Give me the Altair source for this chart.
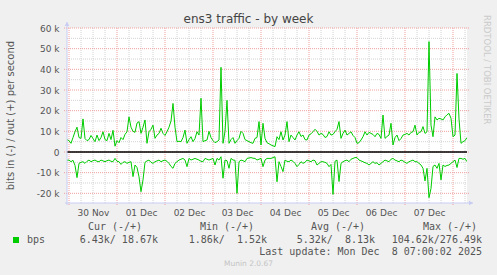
import altair as alt
import pandas as pd

# ---------------- data ----------------
START = "2025-11-29 23:00"          # first sample (UTC), hourly samples
OUT_K = [
    6.0, 5.5, 4.2, 7.0, 9.8, 12.0, 7.0, 6.6, 16.0, 6.5,
    5.5, 6.0, 8.0, 6.5, 5.0, 8.2, 5.5, 7.0, 9.8, 6.0,
    5.5, 9.0, 6.0, 10.5, 2.8, 5.5, 4.5, 7.0, 6.0, 8.5,
    9.8, 17.0, 12.0, 10.0, 9.5, 14.0, 14.7, 9.0, 12.0, 15.5,
    4.2, 9.8, 11.0, 13.0, 6.6, 8.2, 9.0, 11.5, 9.0, 8.0,
    9.8, 12.0, 15.0, 23.5, 12.0, 5.0, 5.2, 5.0, 7.0, 10.6,
    4.2, 6.0, 7.4, 5.0, 6.5, 9.8, 8.2, 26.0, 5.0, 5.5,
    5.8, 10.0, 7.0, 5.5, 4.5, 5.0, 5.8, 41.0, 4.2, 10.0,
    25.0, 4.2, 6.0, 7.0, 4.2, 5.5, 6.6, 10.0, 9.0, 6.0,
    5.5, 5.0, 4.5, 4.2, 6.6, 7.0, 14.7, 3.4, 13.9, 6.6,
    4.5, 4.0, 3.4, 3.0, 2.6, 7.4, 6.0, 9.8, 5.8, 8.2,
    14.7, 5.0, 8.2, 7.0, 5.8, 8.2, 9.8, 7.5, 8.2, 6.0,
    5.8, 8.2, 8.8, 9.8, 11.0, 10.0, 8.2, 9.0, 8.5, 7.0,
    7.5, 9.8, 8.2, 8.5, 9.8, 11.0, 14.7, 6.6, 9.0, 10.6,
    8.2, 9.0, 9.8, 8.0, 7.0, 4.2, 4.5, 5.8, 7.4, 9.8,
    8.2, 9.5, 9.0, 8.5, 7.4, 9.0, 8.5, 6.6, 17.9, 6.6,
    7.5, 8.2, 13.9, 3.4, 7.0, 8.2, 5.5, 6.5, 8.2, 8.5,
    9.0, 8.2, 9.5, 9.8, 13.0, 8.2, 9.5, 9.8, 12.3, 9.0,
    9.8, 53.4, 13.0, 7.4, 17.0, 15.5, 16.3, 16.0, 15.5, 17.0,
    18.0, 18.7, 16.3, 7.4, 8.2, 38.0, 16.0, 4.2, 5.0, 5.5,
    7.0,
]
IN_K = [
    -4.0, -3.9, -4.7, -4.0, -6.5, -12.4, -5.5, -5.0, -4.7, -5.5,
    -4.5, -3.9, -4.7, -4.2, -3.9, -4.5, -4.7, -3.9, -4.3, -4.7,
    -4.2, -3.9, -4.5, -4.7, -3.1, -4.5, -4.7, -6.0, -5.0, -4.7,
    -5.5, -5.0, -4.7, -11.9, -6.3, -7.5, -12.0, -19.2, -13.5, -5.0,
    -4.3, -3.9, -5.0, -5.5, -4.7, -4.3, -3.9, -4.7, -4.2, -3.9,
    -4.5, -5.5, -7.0, -7.9, -5.5, -4.7, -3.9, -3.5, -3.1, -3.9,
    -7.1, -3.1, -3.9, -3.5, -3.1, -3.5, -3.9, -4.5, -4.7, -3.1,
    -3.5, -3.9, -3.5, -3.1, -6.3, -3.1, -3.9, -2.3, -12.7, -3.9,
    -4.2, -7.9, -3.1, -3.9, -4.0, -20.0, -4.7, -3.9, -4.2, -4.7,
    -3.1, -2.9, -2.7, -3.0, -3.1, -3.9, -3.5, -3.1, -7.1, -3.9,
    -3.1, -3.1, -3.1, -2.7, -2.3, -14.4, -4.7, -7.0, -9.5, -3.9,
    -4.5, -4.7, -3.9, -4.5, -5.5, -7.1, -6.0, -4.7, -5.5, -5.0,
    -3.9, -4.3, -4.7, -3.9, -4.2, -6.3, -5.5, -4.7, -4.7, -5.0,
    -5.5, -7.1, -6.0, -20.5, -4.5, -3.9, -14.3, -5.5, -4.7, -4.2,
    -3.9, -4.7, -3.5, -3.1, -2.7, -2.7, -3.9, -4.3, -4.7, -5.2,
    -5.5, -6.3, -5.5, -4.7, -5.5, -5.2, -6.3, -5.5, -4.7, -3.9,
    -4.3, -4.7, -3.5, -3.1, -3.9, -4.3, -4.7, -3.9, -4.3, -5.0,
    -5.5, -4.7, -4.3, -3.9, -4.7, -4.7, -5.5, -6.3, -7.9, -14.0,
    -7.9, -22.1, -17.6, -7.0, -6.3, -7.9, -5.5, -13.5, -6.3, -7.0,
    -6.5, -6.3, -5.5, -4.7, -3.9, -7.5, -3.1, -3.1, -3.5, -3.1,
    -4.7,
]
Y_MAJOR = list(range(-20000, 60001, 10000))
Y_MINOR = list(range(-15000, 60000, 10000))
X_MAJOR = list(pd.date_range("2025-11-30 00:00", "2025-12-08 00:00", freq="D").strftime("%Y-%m-%dT%H:%M:%SZ"))
X_MINOR = [t for t in pd.date_range("2025-11-30 00:00", "2025-12-08 06:00", freq="6h").strftime("%Y-%m-%dT%H:%M:%SZ")
           if not t.endswith("T00:00:00Z")]
X_LABELS = list(pd.date_range("2025-11-30 12:00", "2025-12-07 12:00", freq="D").strftime("%Y-%m-%dT%H:%M:%SZ"))
TITLE = "ens3 traffic - by week"
Y_TITLE = "bits in (-) / out (+) per second"
SERIES = "bps"
HEADERS = ["Cur (-/+)", "Min (-/+)", "Avg (-/+)", "Max (-/+)"]
VALUES = ["6.43k/ 18.67k", "1.86k/  1.52k", "5.32k/  8.13k", "104.62k/276.49k"]
LAST_UPDATE = "Last update: Mon Dec  8 07:00:02 2025"
FOOTER = "Munin 2.0.67"
WATERMARK = "RRDTOOL / TOBI OETIKER"

# ---------------- build tables ----------------
times = pd.date_range(START, periods=len(OUT_K), freq="h")
tstr = times.strftime("%Y-%m-%dT%H:%M:%SZ")
df = pd.concat([
    pd.DataFrame({"t": tstr, "v": [v * 1000 for v in OUT_K], "dir": "out"}),
    pd.DataFrame({"t": tstr, "v": [v * 1000 for v in IN_K], "dir": "in"}),
])
x_values = [alt.DateTime(year=int(g[0:4]), month=int(g[5:7]), date=int(g[8:10]),
                         hours=int(g[11:13]), utc=True) for g in X_LABELS]

W, H = 400, 175
GREEN = "#00CC00"
FONT = "DejaVu Sans"
MONO = "DejaVu Sans Mono"
TXT = "#555555"
AXISC = "#C8CCF2"
RED = "#F0A0A0"
GREY = "#D2D2D2"

XSCALE = alt.Scale(type="utc",
                   domain=[alt.DateTime(year=2025, month=11, date=29, hours=23, utc=True),
                           alt.DateTime(year=2025, month=12, date=8, hours=7, utc=True)])
YSCALE = alt.Scale(domain=[-24677, 60000], nice=False, zero=False)

x_enc = alt.X(
    "t:T", scale=XSCALE,
    axis=alt.Axis(
        values=x_values, title=None, domain=False, grid=False, ticks=False,
        labelExpr="utcFormat(datum.value, '%d %b')",
        labelFont=FONT, labelFontSize=9, labelColor=TXT, labelPadding=5,
        labelOverlap=False, labelFlush=False,
    ),
)
y_enc = alt.Y(
    "v:Q", scale=YSCALE,
    axis=alt.Axis(
        values=Y_MAJOR, title=None, domain=False, grid=False, ticks=False,
        labelExpr="datum.value == 0 ? '0' : (datum.value / 1000) + ' k'",
        labelFont=FONT, labelFontSize=9, labelColor=TXT, labelPadding=8,
        labelOverlap=False, labelFlush=False,
    ),
)

lines = alt.Chart(df).mark_line(color=GREEN, strokeWidth=1, clip=True).encode(
    x=x_enc, y=y_enc, detail="dir:N"
)

one = pd.DataFrame({"z": [0]})

ygrid_minor = alt.Chart(pd.DataFrame({"v": Y_MINOR})).mark_rule(
    color=GREY, strokeWidth=1, strokeDash=[1, 1]).encode(
    y=y_enc, x=alt.value(0), x2=alt.value(W))
ygrid_major = alt.Chart(pd.DataFrame({"v": Y_MAJOR})).mark_rule(
    color=RED, strokeWidth=1, strokeDash=[1, 1]).encode(
    y=y_enc, x=alt.value(-3), x2=alt.value(W + 2))
xgrid_minor = alt.Chart(pd.DataFrame({"t": X_MINOR})).mark_rule(
    color=GREY, strokeWidth=1, strokeDash=[1, 1]).encode(
    x=x_enc, y=alt.value(0), y2=alt.value(H))
xgrid_major = alt.Chart(pd.DataFrame({"t": X_MAJOR})).mark_rule(
    color=RED, strokeWidth=1, strokeDash=[1, 1]).encode(
    x=x_enc, y=alt.value(0), y2=alt.value(H + 3))

zero = alt.Chart(pd.DataFrame({"v": [0]})).mark_rule(color="black", strokeWidth=1.3).encode(
    y=y_enc, x=alt.value(0), x2=alt.value(W))

yaxis_line = alt.Chart(one).mark_rule(color=AXISC, strokeWidth=1).encode(
    x=alt.value(0), y=alt.value(-6), y2=alt.value(H + 2))
xaxis_line = alt.Chart(one).mark_rule(color=AXISC, strokeWidth=1).encode(
    x=alt.value(-2), x2=alt.value(W + 6), y=alt.value(H))
up_arrow = alt.Chart(one).mark_point(shape="triangle-up", filled=True, color=AXISC, size=22, opacity=1).encode(
    x=alt.value(0), y=alt.value(-4))
right_arrow = alt.Chart(one).mark_point(shape="triangle-right", filled=True, color=AXISC, size=22, opacity=1).encode(
    x=alt.value(W + 4), y=alt.value(H))


def txt(s, x, y, font=FONT, size=9, color=TXT, align="left", baseline="middle", angle=0):
    return alt.Chart(one).mark_text(
        text=s.replace(" ", "\u00a0"), font=font, fontSize=size, color=color,
        align=align, baseline=baseline, angle=angle,
    ).encode(x=alt.value(x), y=alt.value(y))


texts = [
    txt(TITLE, 181.5, -5, size=12, color="#444444", align="center", baseline="alphabetic"),
    txt(Y_TITLE, -56, 87.5, size=10, align="center", angle=270),
    txt(WATERMARK, 420, -13, size=8.5, color="#CBCBCB", align="left", angle=90),
    txt(SERIES, -40, 212, font=MONO, size=10),
    txt(LAST_UPDATE, 415, 224, font=MONO, size=10, align="right"),
    txt(FOOTER, 181.5, 236, size=7.5, color="#C4C4C4", align="center"),
]
hdr_x = [48, 160, 271, 383]
val_x = [91, 200, 308, 415]
for h, hx in zip(HEADERS, hdr_x):
    texts.append(txt(h, hx, 199, font=MONO, size=10, align="center"))
for v, vx in zip(VALUES, val_x):
    texts.append(txt(v, vx, 212, font=MONO, size=10, align="right"))

swatch = alt.Chart(one).mark_square(color=GREEN, size=36, opacity=1).encode(
    x=alt.value(-51), y=alt.value(212))

chart = alt.layer(
    ygrid_minor, xgrid_minor, ygrid_major, xgrid_major,
    lines, zero, yaxis_line, xaxis_line, up_arrow, right_arrow, swatch, *texts
).properties(
    width=W, height=H,
    autosize=alt.AutoSizeParams(type="none"),
    padding={"left": 67, "top": 28, "right": 30, "bottom": 72},
    background="#F0F0F0",
).configure_view(fill="white", stroke=None)

chart.save("out.html", embed_options={"renderer": "svg", "actions": False})
